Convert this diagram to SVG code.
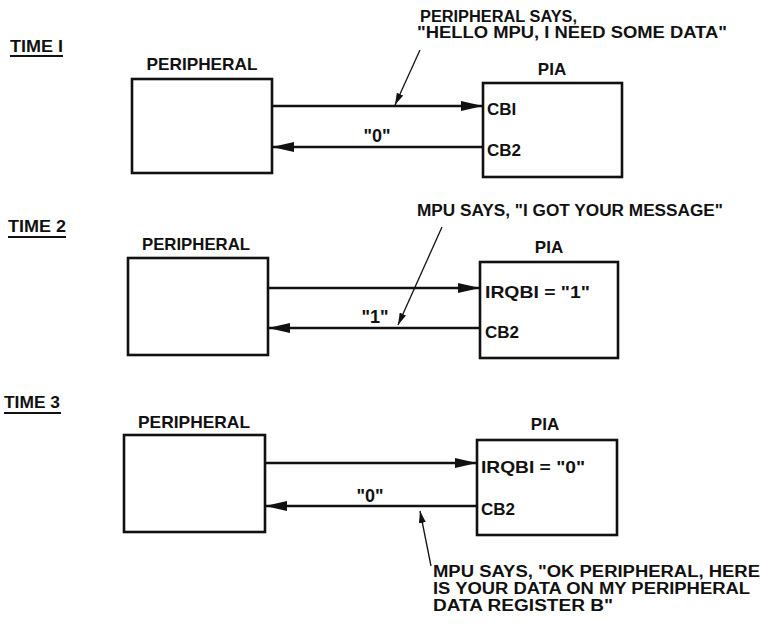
<svg xmlns="http://www.w3.org/2000/svg" width="763" height="625" viewBox="0 0 763 625">
<style>
text{font-family:"Liberation Sans","DejaVu Sans",sans-serif;font-weight:bold;fill:#111}
.lbl{font-size:17px}
.hd{font-size:17px}
.ann{font-size:16px}
.q{font-size:18px}
.c{text-anchor:middle}
.box{fill:#fff;stroke:#111;stroke-width:2.6}
.wire{stroke:#111;stroke-width:2.6;fill:none}
.lead{stroke:#111;stroke-width:1.3;fill:none}
.ul{stroke:#111;stroke-width:2}
</style>
<defs>
<marker id="ah" markerUnits="userSpaceOnUse" markerWidth="24" markerHeight="12" refX="22" refY="6" orient="auto">
<path d="M0,1 L22,6 L0,11 z" fill="#111"/>
</marker>
<marker id="sh" markerUnits="userSpaceOnUse" markerWidth="13" markerHeight="8" refX="12" refY="4" orient="auto">
<path d="M0,0.5 L12,4 L0,7.5 z" fill="#111"/>
</marker>
</defs>

<g id="labels">
<text class="hd" x="10" y="52" textLength="53" lengthAdjust="spacingAndGlyphs">TIME I</text>
<line class="ul" x1="10" y1="56" x2="63" y2="56"/>
<text class="hd" x="8" y="232" textLength="58" lengthAdjust="spacingAndGlyphs">TIME 2</text>
<line class="ul" x1="8" y1="237" x2="66" y2="237"/>
<text class="hd" x="4" y="408" textLength="56" lengthAdjust="spacingAndGlyphs">TIME 3</text>
<line class="ul" x1="4" y1="413" x2="61" y2="413"/>
</g>

<!-- TIME 1 -->
<g id="t1-peripheral">
<rect class="box" x="132" y="79" width="140" height="94"/>
<text class="lbl c" x="202" y="70" textLength="111" lengthAdjust="spacingAndGlyphs">PERIPHERAL</text>
</g>
<g id="t1-pia">
<rect class="box" x="483" y="83" width="139" height="94"/>
<text class="lbl c" x="552" y="75">PIA</text>
<text class="lbl" x="487" y="115">CBI</text>
<text class="lbl" x="487" y="156">CB2</text>
</g>
<g id="t1-note">
<text class="ann" x="420" y="22" textLength="157" lengthAdjust="spacingAndGlyphs">PERIPHERAL SAYS,</text>
<text class="ann" x="417" y="38" textLength="310" lengthAdjust="spacingAndGlyphs">"HELLO MPU, I NEED SOME DATA"</text>
</g>

<!-- TIME 2 -->
<g id="t2-peripheral">
<rect class="box" x="128" y="258" width="140" height="97"/>
<text class="lbl c" x="196" y="250" textLength="108" lengthAdjust="spacingAndGlyphs">PERIPHERAL</text>
</g>
<g id="t2-pia">
<rect class="box" x="480" y="262" width="138" height="96"/>
<text class="lbl c" x="549" y="253">PIA</text>
<text class="lbl" x="485" y="298" textLength="105" lengthAdjust="spacingAndGlyphs">IRQBI = "1"</text>
<text class="lbl" x="485" y="338">CB2</text>
</g>
<g id="t2-note">
<text class="ann" x="417" y="216" textLength="306" lengthAdjust="spacingAndGlyphs">MPU SAYS, "I GOT YOUR MESSAGE"</text>
</g>

<!-- TIME 3 -->
<g id="t3-peripheral">
<rect class="box" x="124" y="435" width="141" height="97"/>
<text class="lbl c" x="194" y="428" textLength="112" lengthAdjust="spacingAndGlyphs">PERIPHERAL</text>
</g>
<g id="t3-pia">
<rect class="box" x="477" y="440" width="140" height="95"/>
<text class="lbl c" x="545" y="430">PIA</text>
<text class="lbl" x="481" y="473" textLength="104" lengthAdjust="spacingAndGlyphs">IRQBI = "0"</text>
<text class="lbl" x="481" y="515">CB2</text>
</g>
<g id="t3-note">
<text class="ann" x="433" y="577" textLength="327" lengthAdjust="spacingAndGlyphs">MPU SAYS, "OK PERIPHERAL, HERE</text>
<text class="ann" x="433" y="594" textLength="317" lengthAdjust="spacingAndGlyphs">IS YOUR DATA ON MY PERIPHERAL</text>
<text class="ann" x="433" y="611" textLength="180" lengthAdjust="spacingAndGlyphs">DATA REGISTER B"</text>
</g>

<g id="connectors">
<line class="wire" x1="272" y1="106" x2="483" y2="106" marker-end="url(#ah)"/>
<line class="wire" x1="483" y1="147" x2="272" y2="147" marker-end="url(#ah)"/>
<text class="q c" x="377" y="142">"0"</text>
<line class="lead" x1="420" y1="50" x2="395" y2="105" marker-end="url(#sh)"/>

<line class="wire" x1="268" y1="288" x2="480" y2="288" marker-end="url(#ah)"/>
<line class="wire" x1="480" y1="328" x2="268" y2="328" marker-end="url(#ah)"/>
<text class="q c" x="375" y="323">"1"</text>
<line class="lead" x1="442" y1="227" x2="398" y2="325" marker-end="url(#sh)"/>

<line class="wire" x1="265" y1="463" x2="477" y2="463" marker-end="url(#ah)"/>
<line class="wire" x1="477" y1="506" x2="265" y2="506" marker-end="url(#ah)"/>
<text class="q c" x="370" y="502">"0"</text>
<line class="lead" x1="431" y1="566" x2="420" y2="511" marker-end="url(#sh)"/>
</g>
</svg>
